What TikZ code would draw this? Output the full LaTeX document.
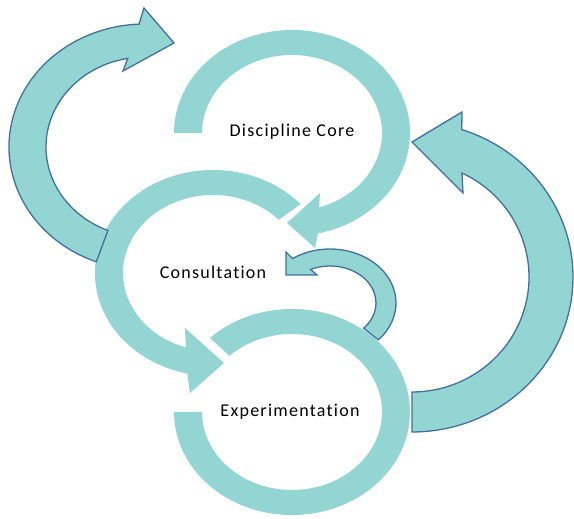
\documentclass[tikz,border=0pt]{standalone}
\usepackage{fontspec}
\setmainfont{Carlito}[Ligatures=NoCommon]
\definecolor{ringteal}{RGB}{146,213,210}
\definecolor{edgeblue}{RGB}{65,113,156}

\begin{document}
\begin{tikzpicture}[x=1pt,y=1pt,
    ring/.style={fill=ringteal},
    loopArrow/.style={fill=ringteal,draw=edgeblue,line width=1.3pt,line join=miter},
    stagetext/.style={font=\fontsize{18}{20}\selectfont\addfontfeature{LetterSpace=7},text=black}]
  \useasboundingbox (0,0) rectangle (574,519);

  % 圆心
  \coordinate (c1) at (292,386);
  \coordinate (c2) at (213,246);
  \coordinate (c3) at (292,107);

  % 三个圆环
  \fill[ring] ([shift={(180:118pt and 103pt)}]c1) arc[start angle=180,end angle=-77.3,x radius=118pt,y radius=103pt]
    -- (315,271) -- (287,296) -- (320,326) -- ([shift={(-72.5:90pt and 78pt)}]c1)
    arc[start angle=-72.5,end angle=180,x radius=90pt,y radius=78pt] -- cycle;
  \fill[ring] ([shift={(42:118pt and 103pt)}]c2) arc[start angle=42,end angle=257.4,x radius=118pt,y radius=103pt]
    -- (190,126) -- (224,156) -- (185,191) -- ([shift={(252.5:90pt and 78pt)}]c2)
    arc[start angle=252.5,end angle=43,x radius=90pt,y radius=78pt] -- cycle;
  \fill[ring] ([shift={(180:118pt and 103pt)}]c3) arc[start angle=180,end angle=494,x radius=118pt,y radius=103pt]
    -- ([shift={(134:90pt and 78pt)}]c3)
    arc[start angle=494,end angle=180,x radius=90pt,y radius=78pt] -- cycle;

  % 外面的箭头
  \coordinate (cl) at (145,372);
  \coordinate (cr) at (412,242);
  \coordinate (cs) at (330,216);
  \filldraw[loopArrow] ([shift={(249:136pt and 123pt)}]cl) arc[start angle=249,end angle=92.5,x radius=136pt,y radius=123pt]
    -- (144,511) -- (174,476) -- (123,448) -- ([shift={(100:99pt and 90pt)}]cl)
    arc[start angle=100,end angle=248,x radius=99pt,y radius=90pt] -- cycle;
  \filldraw[loopArrow] ([shift={(-90:161pt and 155pt)}]cr) arc[start angle=-90,end angle=72,x radius=161pt,y radius=155pt]
    -- (462,407) -- (412,377) -- (463,326) -- ([shift={(64.7:117pt and 115pt)}]cr)
    arc[start angle=64.7,end angle=-90,x radius=117pt,y radius=115pt] -- cycle;
  \filldraw[loopArrow] ([shift={(-43:66pt and 54pt)}]cs) arc[start angle=-43,end angle=124.6,x radius=66pt,y radius=54pt]
    -- (286,267) -- (286,244) -- (317,244) -- ([shift={(115:46pt and 37pt)}]cs)
    arc[start angle=115,end angle=-43,x radius=46pt,y radius=37pt] -- cycle;

  % 文字
  \node[stagetext] (core) at (292,387) {Discipline Core};
  \node[stagetext] (consult) at (213,247) {Consultation};
  \node[stagetext] (experiment) at (290,107) {Experimentation};
\end{tikzpicture}
\end{document}
